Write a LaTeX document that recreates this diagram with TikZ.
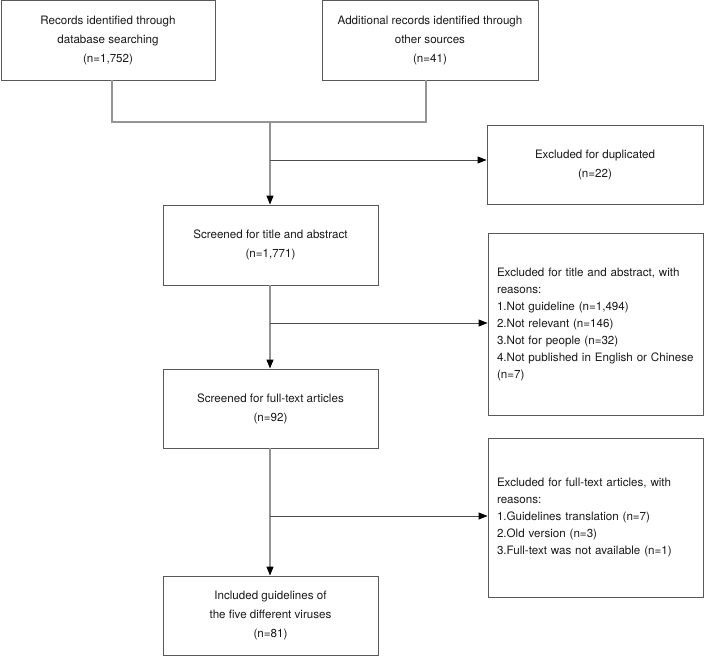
\documentclass[tikz,border=0pt]{standalone}
\usepackage{fontspec}
\setmainfont{TeX Gyre Heros}
\usetikzlibrary{arrows.meta}
\newcommand\listfont{\fontsize{11.6}{17}\selectfont\hyphenpenalty=10000 \exhyphenpenalty=10000 }
\begin{document}
\begin{tikzpicture}[x=1pt,y=-1pt,
box/.style={draw=black!65, line width=0.9pt, inner sep=0pt, text=black!90, align=center, font=\fontsize{11.6}{19}\selectfont},
listbox/.style={draw=black!65, line width=0.9pt, inner xsep=9pt, inner ysep=0pt, text width=197pt, text=black!90, align=left, font=\listfont},
vline/.style={draw=black!42, line width=1.1pt},
hline/.style={draw=black!70, line width=0.9pt},
tip/.style={-{Triangle[length=9pt,width=7pt,color=black]}}]
\useasboundingbox (0,0) rectangle (704,656);
\node[box, minimum width=214pt, minimum height=80pt] (recdb) at (108,40){Records identified through\\database searching\\(n=1,752)};
\node[box, minimum width=216pt, minimum height=80pt] (recother) at (430,40){Additional records identified through\\other sources\\(n=41)};
\node[box, minimum width=216pt, minimum height=79pt] (exdup) at (595,164.5){Excluded for duplicated\\(n=22)};
\node[box, minimum width=215pt, minimum height=80pt] (scrta) at (270.5,245){Screened for title and abstract\\(n=1,771)};
\node[listbox, minimum height=182pt] (exta) at (595.5,324){Excluded for title and abstract, with\\reasons:\\1.Not guideline (n=1,494)\\2.Not relevant (n=146)\\3.Not for people (n=32)\\4.Not published in English or Chinese\\(n=7)};
\node[box, minimum width=215pt, minimum height=79pt] (scrft) at (270.5,408.5){Screened for full-text articles\\(n=92)};
\node[listbox, minimum height=159pt] (exft) at (595.5,517.5){Excluded for full-text articles, with\\reasons:\\1.Guidelines translation (n=7)\\2.Old version (n=3)\\3.Full-text was not available (n=1)};
\node[box, minimum width=215pt, minimum height=79pt] (incl) at (270.5,615.5){Included guidelines of\\the five different viruses\\(n=81)};
\coordinate (jl) at (112,122);
\coordinate (jr) at (426,122);
\coordinate (j0) at (270,122);
\coordinate (b1) at (270,160);
\coordinate (b2) at (270,323);
\coordinate (b3) at (270,516);
\draw[vline] (recdb.south -| jl) -- (jl) -- (jr) -- (recother.south -| jr);
\draw[vline, tip] (j0) -- (scrta.north -| j0);
\draw[hline, tip] (b1) -- (exdup.west |- b1);
\draw[vline, tip] (scrta.south -| b2) -- (scrft.north -| b2);
\draw[hline, tip] (b2) -- (exta.west |- b2);
\draw[vline, tip] (scrft.south -| b3) -- (incl.north -| b3);
\draw[hline, tip] (b3) -- (exft.west |- b3);
\end{tikzpicture}
\end{document}
